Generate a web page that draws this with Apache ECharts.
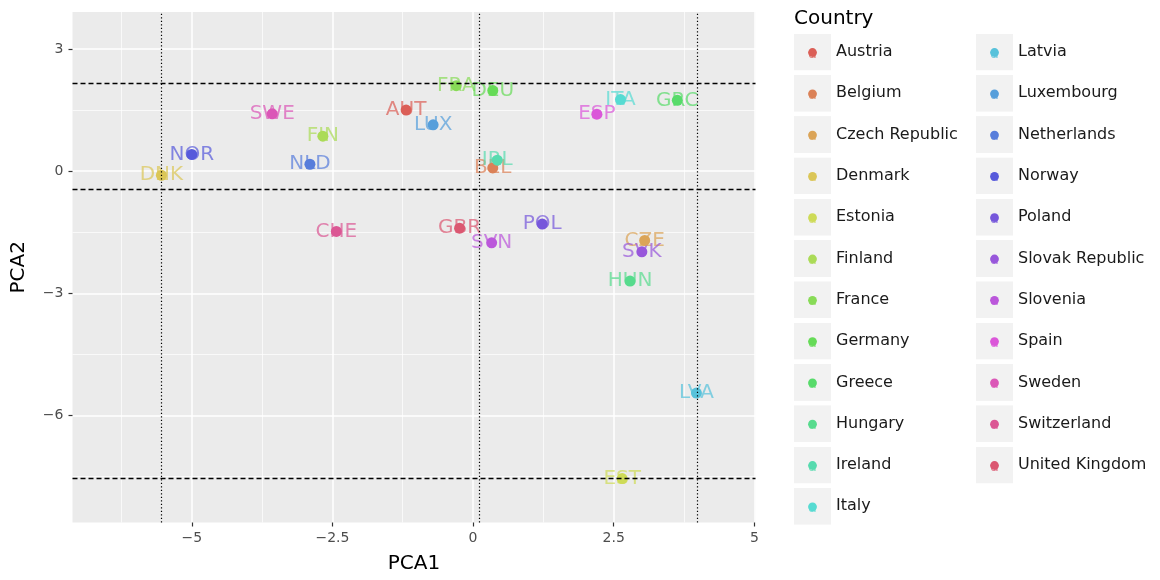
<!DOCTYPE html>
<html>
<head>
<meta charset="utf-8">
<script src="https://cdn.jsdelivr.net/npm/echarts@6/dist/echarts.min.js"></script>
<style>
  html, body { margin: 0; padding: 0; background: #ffffff; }
  #chart { width: 1160px; height: 580px; }
</style>
</head>
<body>
<div id="chart"></div>
<script>
// PCA scores per country
const countries = ['Austria', 'Belgium', 'Czech Republic', 'Denmark', 'Estonia', 'Finland', 'France',
  'Germany', 'Greece', 'Hungary', 'Ireland', 'Italy', 'Latvia', 'Luxembourg', 'Netherlands', 'Norway',
  'Poland', 'Slovak Republic', 'Slovenia', 'Spain', 'Sweden', 'Switzerland', 'United Kingdom'];
const codes = ['AUT', 'BEL', 'CZE', 'DNK', 'EST', 'FIN', 'FRA', 'DEU', 'GRC', 'HUN', 'IRL', 'ITA', 'LVA',
  'LUX', 'NLD', 'NOR', 'POL', 'SVK', 'SVN', 'ESP', 'SWE', 'CHE', 'GBR'];
const pca1 = [-1.19, 0.35, 3.05, -5.54, 2.65, -2.67, -0.30, 0.35, 3.63, 2.79, 0.43, 2.62, 3.97,
  -0.71, -2.90, -5.00, 1.23, 3.00, 0.33, 2.20, -3.57, -2.43, -0.24];
const pca2 = [1.50, 0.08, -1.70, -0.10, -7.55, 0.86, 2.10, 1.98, 1.74, -2.70, 0.27, 1.76, -5.45,
  1.14, 0.17, 0.41, -1.30, -1.98, -1.76, 1.40, 1.41, -1.48, -1.40];

// reference lines
const vLines = [-5.55, 0.11, 3.99];
const hLines = [2.15, -0.45, -7.55];

// axis ticks (major) and minor grid positions
const xTicks = [-5, -2.5, 0, 2.5, 5];
const yTicks = [3, 0, -3, -6];
const xMinor = [-6.25, -3.75, -1.25, 1.25, 3.75];
const yMinor = [1.5, -1.5, -4.5, -7.5];
const xRange = [-7.12, 5.02];
const yRange = [-8.63, 3.91];

// evenly spaced hues in HLS space (l = 0.6, s = 0.65, starting at h = 0.01)
function hlsToRgb(h, l, s) {
  const m2 = l <= 0.5 ? l * (1 + s) : l + s - l * s;
  const m1 = 2 * l - m2;
  const v = (hue) => {
    hue = ((hue % 1) + 1) % 1;
    if (hue < 1 / 6) return m1 + (m2 - m1) * hue * 6;
    if (hue < 0.5) return m2;
    if (hue < 2 / 3) return m1 + (m2 - m1) * (2 / 3 - hue) * 6;
    return m1;
  };
  return [v(h + 1 / 3), v(h), v(h - 1 / 3)].map(x => Math.round(x * 255));
}
const rgbs = countries.map((_, i) => hlsToRgb((i / countries.length + 0.01) % 1, 0.6, 0.65));
const hex = rgb => '#' + rgb.map(x => x.toString(16).padStart(2, '0')).join('');
const colors = rgbs.map(hex);

const minus = v => String(v).replace('-', '\u2212');

function keyIcon(color) {
  const svg = "<svg xmlns='http://www.w3.org/2000/svg' width='37' height='37'>" +
    "<rect width='37' height='37' fill='#f2f2f2'/>" +
    "<text x='18.5' y='24' text-anchor='middle' font-family='DejaVu Sans' font-size='14' fill='" + color + "' fill-opacity='0.8'>a</text>" +
    "<circle cx='18.5' cy='19' r='4.4' fill='" + color + "'/></svg>";
  return 'image://data:image/svg+xml;charset=utf-8,' + encodeURIComponent(svg);
}

const legendItems = countries.map((c, i) => ({ name: c, icon: keyIcon(colors[i]) }));
const legendBase = {
  orient: 'vertical', top: 33.5, padding: 0, itemWidth: 37, itemHeight: 37, itemGap: 4.3,
  selectedMode: false, textStyle: { fontSize: 16, color: '#1a1a1a', fontFamily: 'DejaVu Sans' }
};

const chart = echarts.init(document.getElementById('chart'), null, { renderer: 'canvas' });

const pointSeries = countries.map((c, i) => ({
  type: 'scatter', name: c, z: 3, symbolSize: 11,
  itemStyle: { color: colors[i], opacity: 1 },
  data: [[pca1[i], pca2[i]]],
  animation: false
}));

const labelSeries = {
  type: 'scatter', name: 'codes', z: 1, symbolSize: 0, silent: true, animation: false,
  data: codes.map((c, i) => ({
    value: [pca1[i], pca2[i]], name: c,
    label: { color: 'rgba(' + rgbs[i].join(',') + ',0.9)' }
  })),
  label: {
    show: true, position: 'inside', fontSize: 20, fontFamily: 'DejaVu Sans',
    formatter: p => p.name
  },
  markLine: {
    silent: true, symbol: 'none', animation: false,
    label: { show: false },
    data: [
      ...hLines.map(v => ({ yAxis: v, lineStyle: { color: '#000', width: 1.3, type: [5, 3] } })),
      ...vLines.map(v => ({ xAxis: v, lineStyle: { color: '#000', width: 1.2, type: [1.3, 2.2] } }))
    ]
  }
};

const option = {
  backgroundColor: '#ffffff',
  animation: false,
  textStyle: { fontFamily: 'DejaVu Sans' },
  title: {
    text: 'Country', left: 794, top: 9, padding: 0,
    textStyle: { fontSize: 20, fontWeight: 'normal', color: '#000', fontFamily: 'DejaVu Sans' }
  },
  legend: [
    Object.assign({}, legendBase, { left: 794, data: legendItems.slice(0, 12) }),
    Object.assign({}, legendBase, { left: 976, data: legendItems.slice(12) })
  ],
  grid: {
    left: 72.5, right: 404.5, top: 12, bottom: 57.5,
    show: true, backgroundColor: '#ebebeb', borderWidth: 0,
    containLabel: false, outerBoundsMode: 'none'
  },
  xAxis: [{
    type: 'value', position: 'bottom', min: xRange[0], max: xRange[1],
    name: 'PCA1', nameLocation: 'middle', nameGap: 31,
    nameTextStyle: { fontSize: 20, color: '#000' },
    axisLine: { show: false, onZero: false },
    axisTick: { show: true, length: 4, customValues: xTicks, lineStyle: { color: '#333', width: 1.2 } },
    axisLabel: { customValues: xTicks, formatter: minus, color: '#4d4d4d', fontSize: 14, margin: 9 },
    splitLine: { show: true, lineStyle: { color: '#ffffff', width: 1.5 } }
  }, {
    type: 'value', position: 'top', min: xRange[0], max: xRange[1],
    axisLine: { show: false, onZero: false },
    axisTick: { show: false, customValues: xMinor },
    axisLabel: { show: false, customValues: xMinor },
    splitLine: { show: true, lineStyle: { color: '#ffffff', width: 0.7 } }
  }],
  yAxis: [{
    type: 'value', position: 'left', min: yRange[0], max: yRange[1],
    name: 'PCA2', nameLocation: 'middle', nameGap: 44, nameRotate: 90,
    nameTextStyle: { fontSize: 20, color: '#000' },
    axisLine: { show: false, onZero: false },
    axisTick: { show: true, length: 4, customValues: yTicks, lineStyle: { color: '#333', width: 1.2 } },
    axisLabel: { customValues: yTicks, formatter: minus, color: '#4d4d4d', fontSize: 14, margin: 9 },
    splitLine: { show: true, lineStyle: { color: '#ffffff', width: 1.5 } }
  }, {
    type: 'value', position: 'right', min: yRange[0], max: yRange[1],
    axisLine: { show: false, onZero: false },
    axisTick: { show: false, customValues: yMinor },
    axisLabel: { show: false, customValues: yMinor },
    splitLine: { show: true, lineStyle: { color: '#ffffff', width: 0.7 } }
  }],
  series: [labelSeries, ...pointSeries]
};

chart.setOption(option);
</script>
</body>
</html>
